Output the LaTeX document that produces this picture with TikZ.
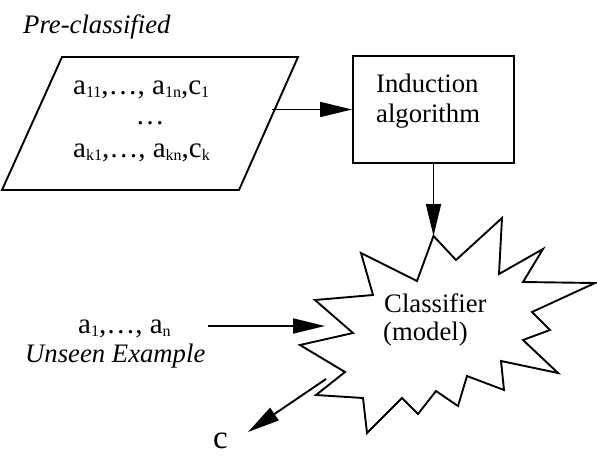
\documentclass[tikz,border=0pt]{standalone}
\usepackage{fontspec}
\setmainfont{Liberation Serif}
\usetikzlibrary{arrows.meta}
\newcommand{\mysub}[1]{\raisebox{-3pt}{\fontsize{16}{16}\selectfont #1}}
\begin{document}
\begin{tikzpicture}[x=1pt,y=-1pt,
  outline/.style={line width=1.9pt, line join=miter},
  arr/.style={line width=1.9pt, -{Triangle[length=32pt,width=15pt]}},
  lbl/.style={inner sep=0pt, font=\fontsize{26.7}{30}\selectfont},
  data/.style={inner sep=0pt, font=\fontsize{29}{34}\selectfont},
  big/.style={inner sep=0pt, font=\fontsize{33}{36}\selectfont}]
\useasboundingbox (0,0) rectangle (597,461);
% parallelogram (pre-classified data)
\draw[outline] (62,57) coordinate (p1) -- (298,57) coordinate (p2) -- (239,190) coordinate (p3) -- (2,190) coordinate (p4) -- cycle;
\node[lbl, anchor=base west] (pre) at (23,33) {\itshape Pre-classified};
\node[data, anchor=base west] (row1) at (73,94) {a\mysub{11},…, a\mysub{1n},c\mysub{1}};
\node[data, anchor=base] (dots) at (150,124) {…};
\node[data, anchor=base west] (rowk) at (73,157) {a\mysub{k1},…, a\mysub{kn},c\mysub{k}};
% induction box
\node[draw, outline, minimum width=161pt, minimum height=107pt, inner sep=0pt] (box) at (433.5,109.5) {};
\node[lbl, anchor=base west] (ind) at (376,92) {Induction};
\node[lbl, anchor=base west] (alg) at (376,122) {algorithm};
% classifier star
\draw[outline] (433.5,236) coordinate (sTop) -- (456,260) -- (502,218) -- (499,274) -- (543,249) -- (523,282)
  -- (595,283) -- (532,312) -- (550,330) -- (523,340) -- (558,373) -- (501,361) -- (504,390)
  -- (467,376) -- (458,406) -- (436,391) -- (418,414) -- (402,398) -- (367,433) -- (363,398)
  -- (316,395) -- (345,372) -- (300,345) -- (353,333) -- (315,300) -- (373,295) -- (361,253)
  -- (417,281) -- cycle;
\node[lbl, anchor=base west] (cls) at (384,312) {Classifier};
\node[lbl, anchor=base west] (mdl) at (383,340) {(model)};
% unseen example
\node[data, anchor=base west] (ex) at (78,333) {a\mysub{1},…, a\mysub{n}};
\node[lbl, anchor=base west] (unseen) at (25,362) {\itshape Unseen Example};
\node[big, anchor=base west] (c) at (213,448) {c};
% connectors
\coordinate (pOut) at (272,109.5);
\coordinate (sIn) at (325,326);
\coordinate (uStart) at (208,326);
\coordinate (sOut) at (326,379);
\coordinate (cEnd) at (248,432);
\draw[arr] (pOut) -- (box.west);
\draw[arr] (box.south) -- (sTop);
\draw[arr] (uStart) -- (sIn);
\draw[arr] (sOut) -- (cEnd);
\end{tikzpicture}
\end{document}
